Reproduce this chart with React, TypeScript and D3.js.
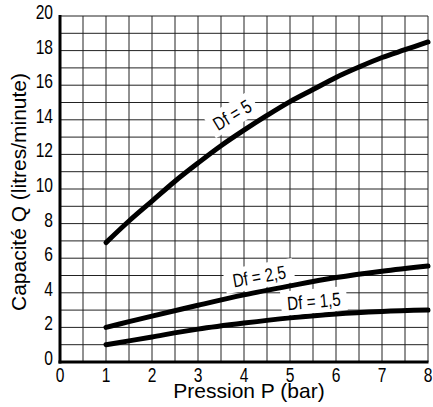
import React from "react";
import * as d3 from "d3";

const xTicks = [0, 1, 2, 3, 4, 5, 6, 7, 8];
const yTicks = [0, 2, 4, 6, 8, 10, 12, 14, 16, 18, 20];

const pressure5 = [1, 1.5, 2, 2.5, 3, 3.5, 4, 4.5, 5, 5.5, 6, 6.5, 7, 7.5, 8];
const capDf5 = [6.9, 8.15, 9.3, 10.45, 11.5, 12.5, 13.4, 14.25, 15.05, 15.75, 16.45, 17.05, 17.6, 18.05, 18.5];

const pressure = [1, 1.5, 2, 3, 4, 5, 6, 7, 8];
const capDf25 = [2.0, 2.33, 2.65, 3.28, 3.88, 4.4, 4.88, 5.25, 5.55];
const capDf15 = [1.0, 1.22, 1.45, 1.9, 2.25, 2.55, 2.78, 2.92, 3.0];

const labelTexts = ["Df = 5", "Df = 2,5", "Df = 1,5"];
const labelX = [3.74, 4.33, 5.52];
const labelY = [14.3, 4.97, 3.53];
const labelAngle = [-31, -10, -5];
const labelW = [46, 64, 60];

const W = 433;
const H = 407;
const FONT = "'Liberation Sans', Arial, sans-serif";
const NARROW_SCALE = 0.8;

export default function App() {
  const x = d3.scaleLinear().domain([0, 8]).range([60, 428]);
  const y = d3.scaleLinear().domain([0, 20]).range([362, 16]);

  const vGrid = d3.range(0, 8.01, 0.5);
  const hGrid = d3.range(0, 20.01, 1);

  const line = d3
    .line<[number, number]>()
    .x((d) => x(d[0]))
    .y((d) => y(d[1]))
    .curve(d3.curveCatmullRom.alpha(0.5));

  const series = [
    pressure5.map((p, i) => [p, capDf5[i]] as [number, number]),
    pressure.map((p, i) => [p, capDf25[i]] as [number, number]),
    pressure.map((p, i) => [p, capDf15[i]] as [number, number]),
  ];

  const narrow = (px: number, py: number) =>
    `translate(${px},${py}) scale(${NARROW_SCALE},1)`;

  return (
    <svg
      width={W}
      height={H}
      style={{ position: "absolute", left: 0, top: 0, background: "#fff" }}
    >
      <rect x={0} y={0} width={W} height={H} fill="#fff" />
      {vGrid.map((v) => (
        <line
          key={"v" + v}
          x1={x(v)}
          x2={x(v)}
          y1={y(20)}
          y2={y(0)}
          stroke="#222"
          strokeWidth={1}
        />
      ))}
      {hGrid.map((v) => (
        <line
          key={"h" + v}
          x1={x(0)}
          x2={x(8)}
          y1={y(v)}
          y2={y(v)}
          stroke="#222"
          strokeWidth={1}
        />
      ))}
      {/* axes */}
      <line x1={x(0)} x2={x(0)} y1={y(20) - 1} y2={y(0) + 1.5} stroke="#000" strokeWidth={3} />
      <line x1={x(0) - 1.5} x2={x(8) + 0.5} y1={y(0)} y2={y(0)} stroke="#000" strokeWidth={3} />

      {series.map((s, i) => (
        <path
          key={"s" + i}
          d={line(s) || ""}
          fill="none"
          stroke="#000"
          strokeWidth={5}
          strokeLinecap="round"
          strokeLinejoin="round"
        />
      ))}

      {labelTexts.map((t, i) => (
        <g
          key={"l" + i}
          transform={`translate(${x(labelX[i])},${y(labelY[i])}) rotate(${labelAngle[i]})`}
        >
          <rect x={-labelW[i] / 2 - 3} y={-12} width={labelW[i] + 6} height={24} fill="#fff" />
          <text
            transform={narrow(0, 7)}
            textAnchor="middle"
            fontFamily={FONT}
            fontSize={19}
            fill="#000"
          >
            {t}
          </text>
        </g>
      ))}

      {yTicks.map((v) => (
        <text
          key={"yt" + v}
          transform={narrow(53, y(v) + 3)}
          textAnchor="end"
          fontFamily={FONT}
          fontSize={19.5}
          fill="#000"
        >
          {v}
        </text>
      ))}
      {xTicks.map((v) => (
        <text
          key={"xt" + v}
          transform={narrow(x(v), 382)}
          textAnchor="middle"
          fontFamily={FONT}
          fontSize={19.5}
          fill="#000"
        >
          {v}
        </text>
      ))}

      <text
        x={249}
        y={398}
        textAnchor="middle"
        fontFamily={FONT}
        fontSize={21}
        fill="#000"
      >
        Pression P (bar)
      </text>
      <text
        transform={`translate(26,192) rotate(-90)`}
        textAnchor="middle"
        fontFamily={FONT}
        fontSize={21}
        fill="#000"
      >
        Capacité Q (litres/minute)
      </text>
    </svg>
  );
}
